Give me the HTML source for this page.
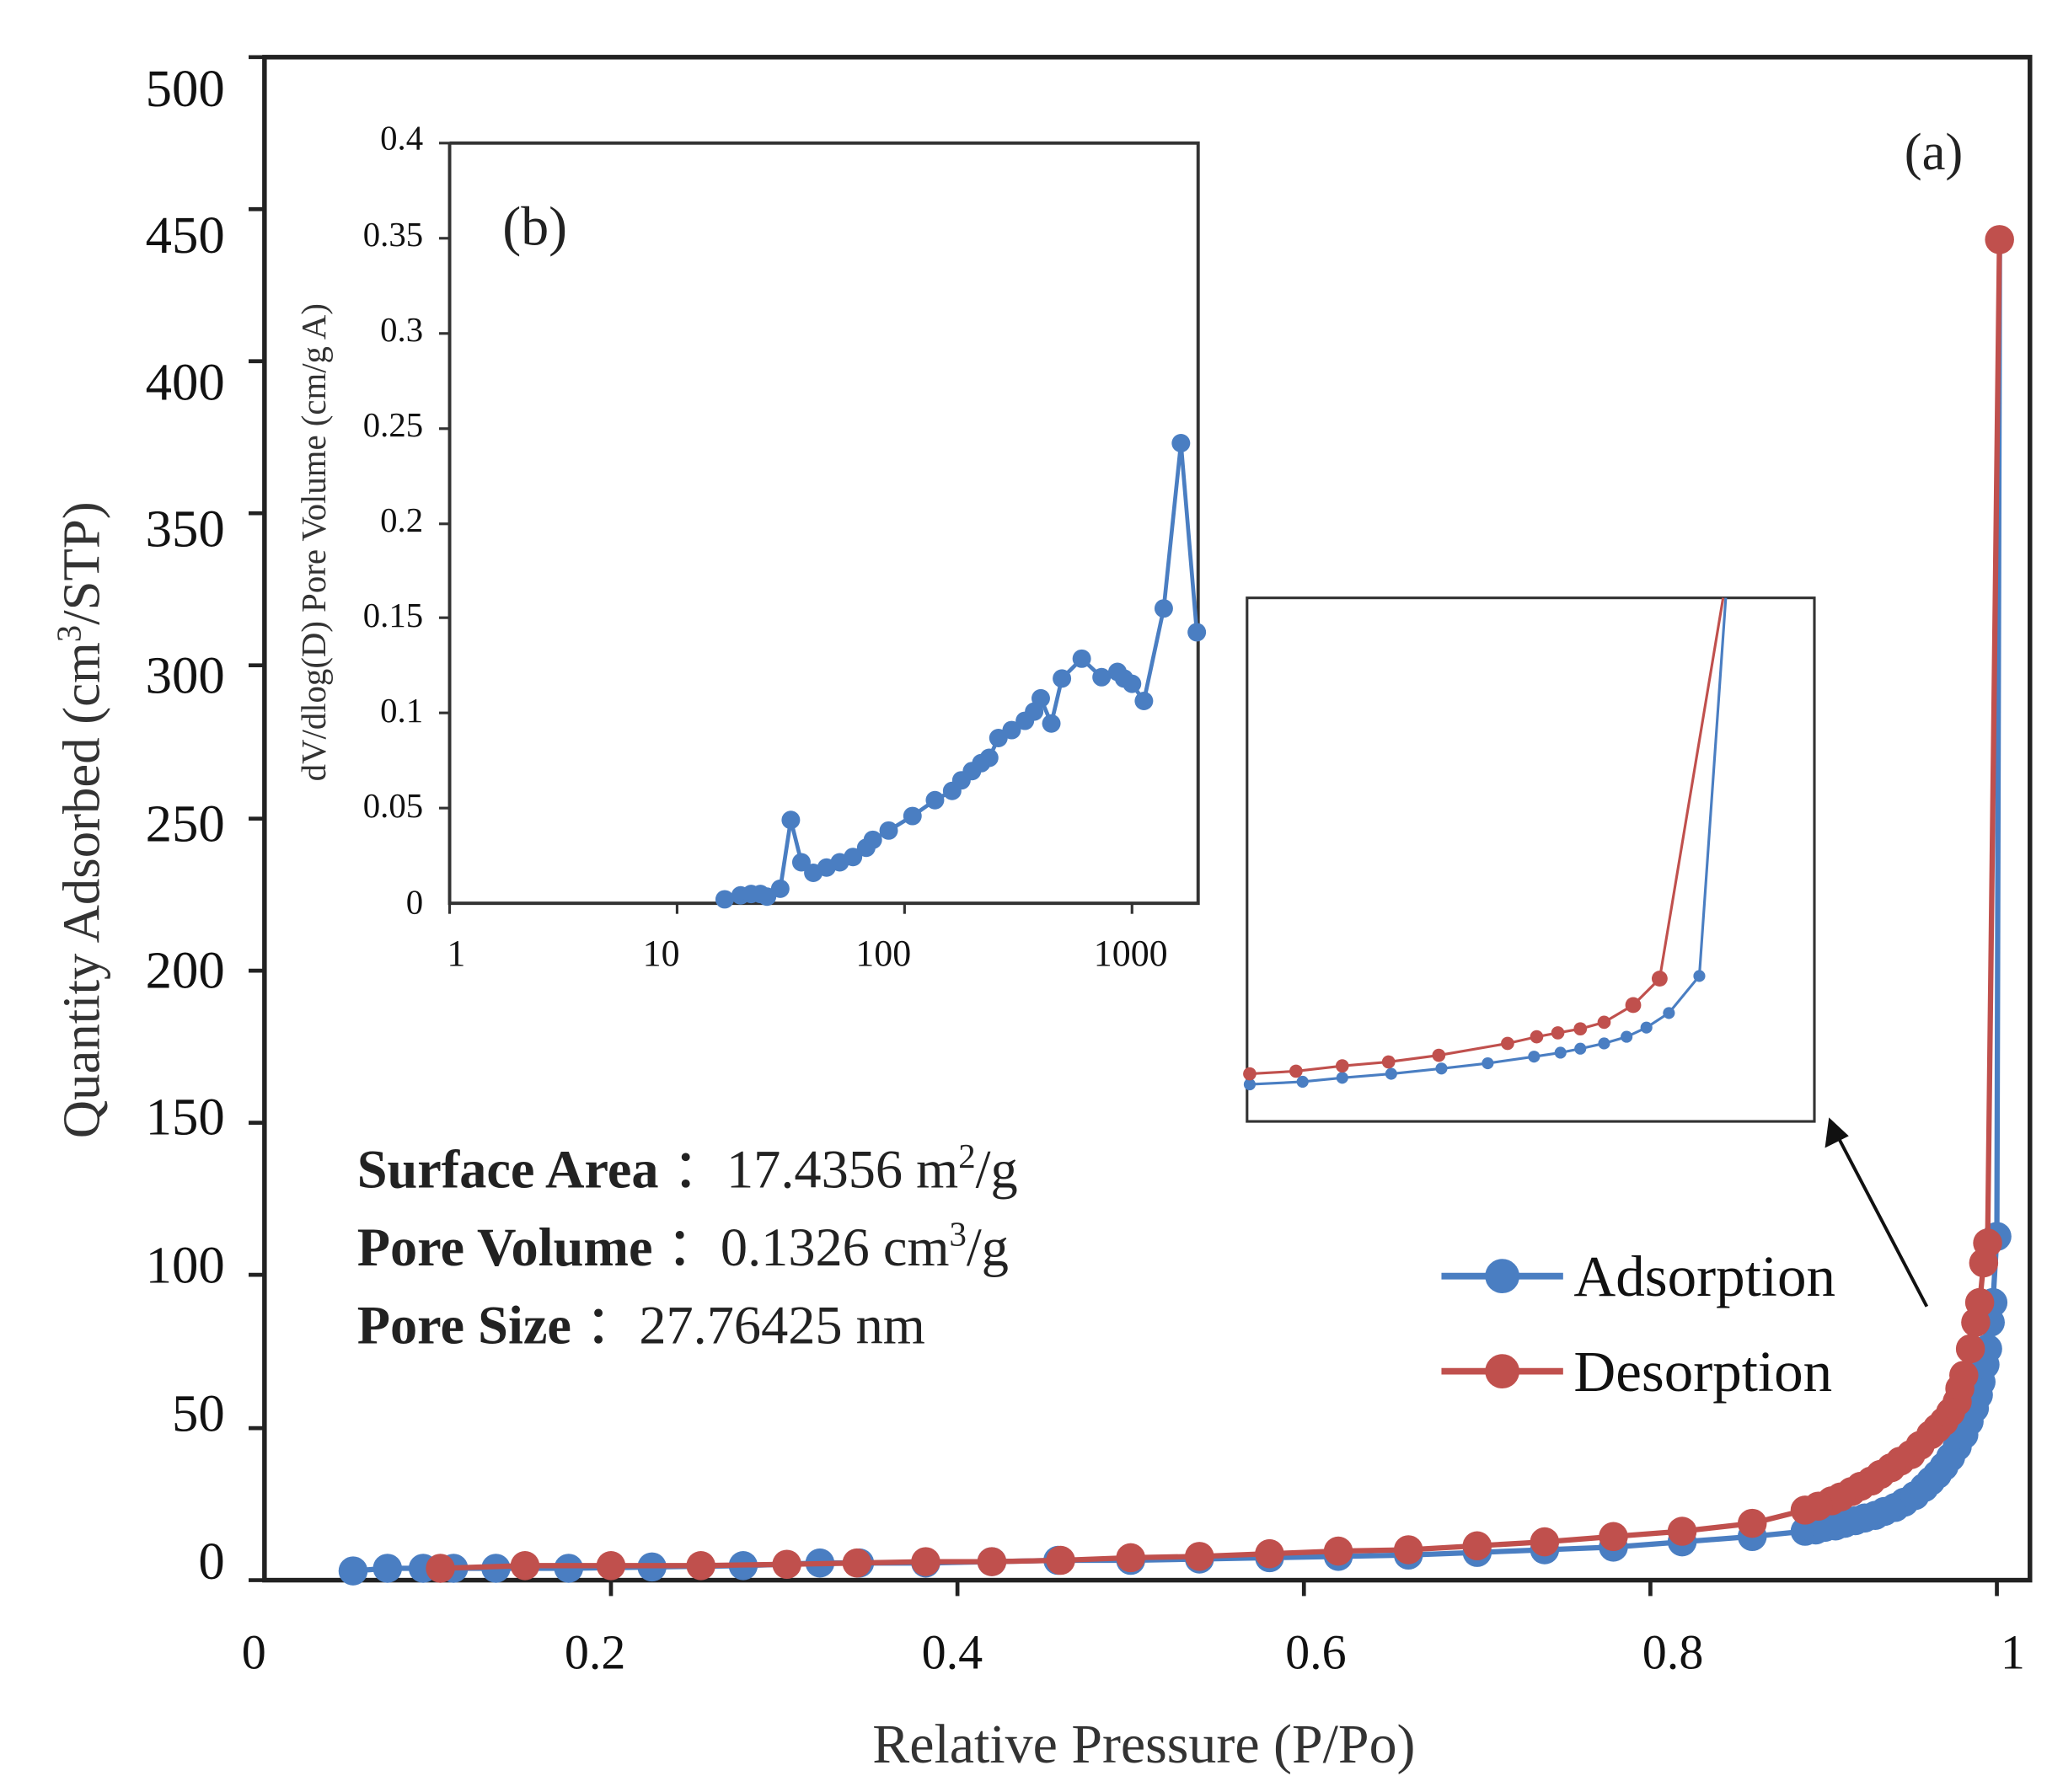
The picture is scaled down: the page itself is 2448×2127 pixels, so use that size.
<!DOCTYPE html>
<html><head><meta charset="utf-8"><style>html,body{margin:0;padding:0;background:#fff}svg{display:block}</style></head><body>
<svg width="2448" height="2127" viewBox="0 0 1560 1355" xmlns="http://www.w3.org/2000/svg" font-family="Liberation Serif, serif">
<rect width="1560" height="1355" fill="#fff"/>
<rect x="200" y="43" width="1335" height="1152" fill="none" stroke="#222" stroke-width="3.5"/>
<g stroke="#222" stroke-width="3">
<line x1="188" y1="43" x2="200" y2="43"/><line x1="188" y1="158" x2="200" y2="158"/><line x1="188" y1="273" x2="200" y2="273"/><line x1="188" y1="388" x2="200" y2="388"/><line x1="188" y1="503" x2="200" y2="503"/><line x1="188" y1="619" x2="200" y2="619"/><line x1="188" y1="734" x2="200" y2="734"/><line x1="188" y1="849" x2="200" y2="849"/><line x1="188" y1="964" x2="200" y2="964"/><line x1="188" y1="1080" x2="200" y2="1080"/><line x1="188" y1="1195" x2="200" y2="1195"/>
<line x1="462" y1="1195" x2="462" y2="1207"/><line x1="724" y1="1195" x2="724" y2="1207"/><line x1="986" y1="1195" x2="986" y2="1207"/><line x1="1248" y1="1195" x2="1248" y2="1207"/><line x1="1510" y1="1195" x2="1510" y2="1207"/>
</g>
<g font-size="40" text-anchor="end" fill="#111">
<text x="170" y="80">500</text><text x="170" y="191">450</text><text x="170" y="302">400</text><text x="170" y="413">350</text><text x="170" y="524">300</text><text x="170" y="636">250</text><text x="170" y="747">200</text><text x="170" y="858">150</text><text x="170" y="970">100</text><text x="170" y="1082">50</text><text x="170" y="1194">0</text>
</g>
<g font-size="37" text-anchor="middle" fill="#111">
<text x="192" y="1262">0</text><text x="450" y="1262">0.2</text><text x="720" y="1262">0.4</text><text x="995" y="1262">0.6</text><text x="1265" y="1262">0.8</text><text x="1522" y="1262">1</text>
</g>
<text x="865" y="1333" font-size="42" text-anchor="middle" fill="#333">Relative Pressure (P/Po)</text>
<text transform="translate(75,620) rotate(-90)" font-size="40" text-anchor="middle" fill="#333">Quantity Adsorbed (cm<tspan font-size="26" dy="-14">3</tspan><tspan dy="14">/STP)</tspan></text>
<text x="1440" y="128" font-size="40" fill="#222">(a)</text>

<g fill="#4a7ec2" stroke="none">
<polyline fill="none" stroke="#4a7ec2" stroke-width="4" points="267,1188 293,1186 320,1186 343,1186 375,1186 430,1186 493,1185 562,1184 620,1182 650,1182 700,1182 750,1181 800,1180 855,1180 907,1179 960,1178 1012,1177 1065,1176 1117,1174 1168,1172 1220,1170 1272,1166 1325,1162 1365,1158 1380,1155 1395,1152 1410,1148 1425,1143 1440,1136 1455,1125 1465,1115 1475,1102 1485,1085 1493,1065 1498,1045 1503,1020 1505,1000 1507,985 1510,935 1512,181"/>
<circle cx="267" cy="1188" r="11"/><circle cx="293" cy="1186" r="11"/><circle cx="320" cy="1186" r="11"/><circle cx="343" cy="1186" r="11"/><circle cx="375" cy="1186" r="11"/><circle cx="430" cy="1186" r="11"/><circle cx="493" cy="1185" r="11"/><circle cx="562" cy="1184" r="11"/><circle cx="620" cy="1182" r="11"/><circle cx="650" cy="1182" r="11"/><circle cx="700" cy="1182" r="11"/><circle cx="750" cy="1181" r="11"/><circle cx="800" cy="1180" r="11"/><circle cx="855" cy="1180" r="11"/><circle cx="907" cy="1179" r="11"/><circle cx="960" cy="1178" r="11"/><circle cx="1012" cy="1177" r="11"/><circle cx="1065" cy="1176" r="11"/><circle cx="1117" cy="1174" r="11"/><circle cx="1168" cy="1172" r="11"/><circle cx="1220" cy="1170" r="11"/><circle cx="1272" cy="1166" r="11"/><circle cx="1325" cy="1162" r="11"/><circle cx="1365" cy="1158" r="11"/><circle cx="1373" cy="1157" r="11"/><circle cx="1380" cy="1155" r="11"/><circle cx="1388" cy="1154" r="11"/><circle cx="1395" cy="1152" r="11"/><circle cx="1403" cy="1150" r="11"/><circle cx="1410" cy="1148" r="11"/><circle cx="1418" cy="1146" r="11"/><circle cx="1425" cy="1143" r="11"/><circle cx="1433" cy="1140" r="11"/><circle cx="1440" cy="1136" r="11"/><circle cx="1448" cy="1131" r="11"/><circle cx="1455" cy="1125" r="11"/><circle cx="1460" cy="1120" r="11"/><circle cx="1465" cy="1115" r="11"/><circle cx="1470" cy="1109" r="11"/><circle cx="1475" cy="1102" r="11"/><circle cx="1480" cy="1094" r="11"/><circle cx="1485" cy="1085" r="11"/><circle cx="1489" cy="1075" r="11"/><circle cx="1493" cy="1065" r="11"/><circle cx="1496" cy="1055" r="11"/><circle cx="1498" cy="1045" r="11"/><circle cx="1501" cy="1032" r="11"/><circle cx="1503" cy="1020" r="11"/><circle cx="1505" cy="1000" r="11"/><circle cx="1507" cy="985" r="11"/><circle cx="1510" cy="935" r="11"/>
</g>
<g fill="#c0504d" stroke="none">
<polyline fill="none" stroke="#c0504d" stroke-width="4" points="1512,181 1503,940 1500,955 1497,985 1494,1000 1490,1020 1485,1040 1480,1060 1470,1075 1460,1085 1445,1100 1430,1110 1415,1120 1400,1128 1385,1135 1365,1142 1325,1152 1272,1158 1220,1162 1168,1166 1117,1169 1065,1172 1012,1173 960,1175 907,1177 855,1178 802,1180 750,1181 700,1181 648,1182 595,1183 530,1184 462,1184 397,1184 333,1186"/>
<circle cx="1512" cy="181" r="11"/><circle cx="1503" cy="940" r="11"/><circle cx="1500" cy="955" r="11"/><circle cx="1497" cy="985" r="11"/><circle cx="1494" cy="1000" r="11"/><circle cx="1490" cy="1020" r="11"/><circle cx="1485" cy="1040" r="11"/><circle cx="1482" cy="1050" r="11"/><circle cx="1480" cy="1060" r="11"/><circle cx="1475" cy="1068" r="11"/><circle cx="1470" cy="1075" r="11"/><circle cx="1465" cy="1080" r="11"/><circle cx="1460" cy="1085" r="11"/><circle cx="1452" cy="1093" r="11"/><circle cx="1445" cy="1100" r="11"/><circle cx="1437" cy="1105" r="11"/><circle cx="1430" cy="1110" r="11"/><circle cx="1422" cy="1115" r="11"/><circle cx="1415" cy="1120" r="11"/><circle cx="1407" cy="1124" r="11"/><circle cx="1400" cy="1128" r="11"/><circle cx="1392" cy="1132" r="11"/><circle cx="1385" cy="1135" r="11"/><circle cx="1375" cy="1139" r="11"/><circle cx="1365" cy="1142" r="11"/><circle cx="1325" cy="1152" r="11"/><circle cx="1272" cy="1158" r="11"/><circle cx="1220" cy="1162" r="11"/><circle cx="1168" cy="1166" r="11"/><circle cx="1117" cy="1169" r="11"/><circle cx="1065" cy="1172" r="11"/><circle cx="1012" cy="1173" r="11"/><circle cx="960" cy="1175" r="11"/><circle cx="907" cy="1177" r="11"/><circle cx="855" cy="1178" r="11"/><circle cx="802" cy="1180" r="11"/><circle cx="750" cy="1181" r="11"/><circle cx="700" cy="1181" r="11"/><circle cx="648" cy="1182" r="11"/><circle cx="595" cy="1183" r="11"/><circle cx="530" cy="1184" r="11"/><circle cx="462" cy="1184" r="11"/><circle cx="397" cy="1184" r="11"/><circle cx="333" cy="1186" r="11"/>
</g>

<line x1="1090" y1="965" x2="1182" y2="965" stroke="#4a7ec2" stroke-width="5"/><circle cx="1136" cy="965" r="13" fill="#4a7ec2"/>
<text x="1190" y="980" font-size="44" fill="#111">Adsorption</text>
<line x1="1090" y1="1037" x2="1182" y2="1037" stroke="#c0504d" stroke-width="5"/><circle cx="1136" cy="1037" r="13" fill="#c0504d"/>
<text x="1190" y="1052" font-size="44" fill="#111">Desorption</text>

<g font-size="41" fill="#222">
<text x="270" y="898"><tspan font-weight="bold">Surface Area</tspan> ：17.4356 m<tspan font-size="26" dy="-15">2</tspan><tspan dy="15">/g</tspan></text>
<text x="270" y="957"><tspan font-weight="bold">Pore Volume</tspan> ：0.1326 cm<tspan font-size="26" dy="-15">3</tspan><tspan dy="15">/g</tspan></text>
<text x="270" y="1016"><tspan font-weight="bold">Pore Size</tspan> ：27.76425 nm</text>
</g>

<rect x="943" y="452" width="429" height="396" fill="none" stroke="#333" stroke-width="2"/>
<polyline fill="none" stroke="#4a7ec2" stroke-width="2" points="945,820 985,818 1015,815 1052,812 1090,808 1125,804 1160,799 1180,796 1195,793 1213,789 1230,784 1245,777 1262,766 1285,738 1305,452"/>
<g fill="#4a7ec2"><circle cx="945" cy="820" r="4.5"/><circle cx="985" cy="818" r="4.5"/><circle cx="1015" cy="815" r="4.5"/><circle cx="1052" cy="812" r="4.5"/><circle cx="1090" cy="808" r="4.5"/><circle cx="1125" cy="804" r="4.5"/><circle cx="1160" cy="799" r="4.5"/><circle cx="1180" cy="796" r="4.5"/><circle cx="1195" cy="793" r="4.5"/><circle cx="1213" cy="789" r="4.5"/><circle cx="1230" cy="784" r="4.5"/><circle cx="1245" cy="777" r="4.5"/><circle cx="1262" cy="766" r="4.5"/><circle cx="1285" cy="738" r="4.5"/></g>
<polyline fill="none" stroke="#c0504d" stroke-width="2" points="945,812 980,810 1015,806 1050,803 1088,798 1140,789 1162,784 1178,781 1195,778 1213,773 1235,760 1255,740 1303,452"/>
<g fill="#c0504d"><circle cx="945" cy="812" r="5"/><circle cx="980" cy="810" r="5"/><circle cx="1015" cy="806" r="5"/><circle cx="1050" cy="803" r="5"/><circle cx="1088" cy="798" r="5"/><circle cx="1140" cy="789" r="5"/><circle cx="1162" cy="784" r="5"/><circle cx="1178" cy="781" r="5"/><circle cx="1195" cy="778" r="5"/><circle cx="1213" cy="773" r="5"/><circle cx="1235" cy="760" r="6"/><circle cx="1255" cy="740" r="6"/></g>
<line x1="1457" y1="988" x2="1390" y2="860" stroke="#111" stroke-width="2.5"/>
<polygon points="1383,845 1380,868 1398,859" fill="#111"/>

<rect x="340" y="108" width="566" height="575" fill="#fff" stroke="none"/>
<polyline fill="none" stroke="#333" stroke-width="2.5" points="340,108 906,108 906,683 340,683 340,108"/>
<g stroke="#333" stroke-width="2">
<line x1="332" y1="108" x2="340" y2="108"/><line x1="332" y1="180" x2="340" y2="180"/><line x1="332" y1="252" x2="340" y2="252"/><line x1="332" y1="324" x2="340" y2="324"/><line x1="332" y1="396" x2="340" y2="396"/><line x1="332" y1="467" x2="340" y2="467"/><line x1="332" y1="539" x2="340" y2="539"/><line x1="332" y1="611" x2="340" y2="611"/>
<line x1="340" y1="683" x2="340" y2="691"/><line x1="512" y1="683" x2="512" y2="691"/><line x1="684" y1="683" x2="684" y2="691"/><line x1="856" y1="683" x2="856" y2="691"/>
</g>
<g font-size="26" text-anchor="end" fill="#111">
<text x="320" y="113">0.4</text><text x="320" y="186">0.35</text><text x="320" y="258">0.3</text><text x="320" y="330">0.25</text><text x="320" y="402">0.2</text><text x="320" y="474">0.15</text><text x="320" y="546">0.1</text><text x="320" y="618">0.05</text><text x="320" y="691">0</text>
</g>
<g font-size="28" text-anchor="middle" fill="#111">
<text x="345" y="730">1</text><text x="500" y="730">10</text><text x="668" y="730">100</text><text x="855" y="730">1000</text>
</g>
<text transform="translate(246,410) rotate(-90)" font-size="26" text-anchor="middle" fill="#333">dV/dlog(D) Pore Volume (cm/g A)</text>
<text x="380" y="185" font-size="42" fill="#222">(b)</text>
<polyline fill="none" stroke="#4a7ec2" stroke-width="3" points="548,680 560,677 568,676 575,676 580,678 590,672 598,620 606,652 615,660 625,656 635,652 645,648 655,641 660,635 672,628 690,617 707,605 720,598 727,590 735,583 742,577 748,573 755,558 765,552 775,545 782,538 787,528 795,547 803,513 818,498 833,512 845,508 850,513 856,517 865,530 880,460 893,335 905,478"/>
<g fill="#4a7ec2"><circle cx="548" cy="680" r="7"/><circle cx="560" cy="677" r="7"/><circle cx="568" cy="676" r="7"/><circle cx="575" cy="676" r="7"/><circle cx="580" cy="678" r="7"/><circle cx="590" cy="672" r="7"/><circle cx="598" cy="620" r="7"/><circle cx="606" cy="652" r="7"/><circle cx="615" cy="660" r="7"/><circle cx="625" cy="656" r="7"/><circle cx="635" cy="652" r="7"/><circle cx="645" cy="648" r="7"/><circle cx="655" cy="641" r="7"/><circle cx="660" cy="635" r="7"/><circle cx="672" cy="628" r="7"/><circle cx="690" cy="617" r="7"/><circle cx="707" cy="605" r="7"/><circle cx="720" cy="598" r="7"/><circle cx="727" cy="590" r="7"/><circle cx="735" cy="583" r="7"/><circle cx="742" cy="577" r="7"/><circle cx="748" cy="573" r="7"/><circle cx="755" cy="558" r="7"/><circle cx="765" cy="552" r="7"/><circle cx="775" cy="545" r="7"/><circle cx="782" cy="538" r="7"/><circle cx="787" cy="528" r="7"/><circle cx="795" cy="547" r="7"/><circle cx="803" cy="513" r="7"/><circle cx="818" cy="498" r="7"/><circle cx="833" cy="512" r="7"/><circle cx="845" cy="508" r="7"/><circle cx="850" cy="513" r="7"/><circle cx="856" cy="517" r="7"/><circle cx="865" cy="530" r="7"/><circle cx="880" cy="460" r="7"/><circle cx="893" cy="335" r="7"/><circle cx="905" cy="478" r="7"/></g>
</svg>
</body></html>
